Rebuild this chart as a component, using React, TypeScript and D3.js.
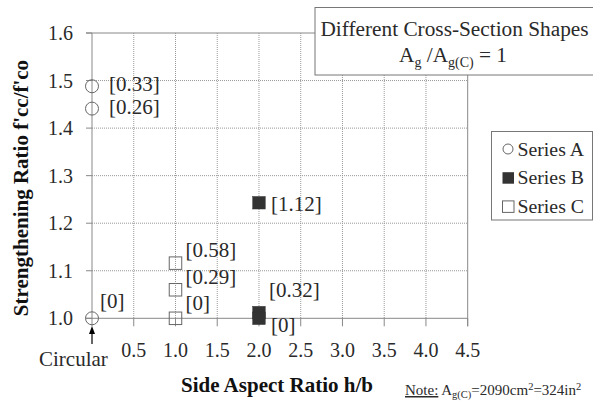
import React from "react";
import * as d3 from "d3";

const xTicks = [0.5, 1.0, 1.5, 2.0, 2.5, 3.0, 3.5, 4.0, 4.5];
const yTicks = [1.0, 1.1, 1.2, 1.3, 1.4, 1.5, 1.6];

const seriesAx = [0, 0, 0];
const seriesAy = [1.488, 1.441, 1.0];
const seriesAlabels = ["[0.33]", "[0.26]", "[0]"];

const seriesBx = [2, 2, 2];
const seriesBy = [1.243, 1.012, 1.0];
const seriesBlabels = ["[1.12]", "[0.32]", "[0]"];

const seriesCx = [1, 1, 1];
const seriesCy = [1.116, 1.06, 1.0];
const seriesClabels = ["[0.58]", "[0.29]", "[0]"];

const legendNames = ["Series A", "Series B", "Series C"];

const FONT = "'Liberation Serif', 'Times New Roman', serif";

export default function App() {
  const W = 593, H = 411;
  const x = d3.scaleLinear().domain([0, 4.5]).range([92, 467.7]);
  const y = d3.scaleLinear().domain([1.0, 1.6]).range([318.3, 33]);
  const gridX = d3.range(0, 4.51, 0.5);
  const gridY = d3.range(1.0, 1.61, 0.1);
  const textCol = "#2a2a2a";
  const markerStroke = "#666";
  const fillB = "#333";

  // label offsets per series/point (dx, dy of baseline from point center)
  const offA = [[17, 5], [17, 5], [8, -10]];
  const offB = [[12, 8], [10, -16], [12, 14]];
  const offC = [[10, -6], [10, -6], [10, -8]];

  const ms = 12.5;
  const LF = 21;

  return (
    <svg width={W} height={H} style={{ position: "absolute", left: 0, top: 0, background: "#fff" }}
      fontFamily={FONT}>
      <rect x={0} y={0} width={W} height={H} fill="#fff" />
      {/* grid */}
      {gridX.map((v, i) => (
        i > 0 && i < gridX.length - 1 ? (
          <line key={"gx" + i} x1={x(v)} x2={x(v)} y1={y(1.6)} y2={y(1.0)} stroke="#999" strokeWidth={1} strokeDasharray="1,1" />
        ) : null
      ))}
      {gridY.map((v, i) => (
        i > 0 && i < gridY.length - 1 ? (
          <line key={"gy" + i} x1={x(0)} x2={x(4.5)} y1={y(v)} y2={y(v)} stroke="#999" strokeWidth={1} strokeDasharray="1,1" />
        ) : null
      ))}
      {/* frame */}
      <line x1={x(0) - 6} x2={x(4.5)} y1={y(1.6)} y2={y(1.6)} stroke="#888" />
      <line x1={x(4.5)} x2={x(4.5)} y1={y(1.6)} y2={y(1.0) + 8} stroke="#888" />
      <line x1={x(0)} x2={x(0)} y1={y(1.6)} y2={y(1.0) + 8} stroke="#888" />
      <line x1={x(0) - 6} x2={x(4.5)} y1={y(1.0)} y2={y(1.0)} stroke="#888" />
      {/* ticks */}
      {yTicks.map((v, i) => (
        <g key={"yt" + i}>
          <line x1={x(0) - 6} x2={x(0)} y1={y(v)} y2={y(v)} stroke="#888" />
          <text x={73} y={y(v) + 7} textAnchor="end" fontSize={20} fill={textCol}>{v.toFixed(1)}</text>
        </g>
      ))}
      {xTicks.map((v, i) => (
        <g key={"xt" + i}>
          <line x1={x(v)} x2={x(v)} y1={y(1.0)} y2={y(1.0) + 8} stroke="#888" />
          <text x={x(v)} y={357} textAnchor="middle" fontSize={20} fill={textCol}>{v.toFixed(1)}</text>
        </g>
      ))}
      {/* axis titles */}
      <text x={277} y={392} textAnchor="middle" fontSize={21} fontWeight="bold" fill="#111">Side Aspect Ratio h/b</text>
      <text transform={`translate(28,188) rotate(-90)`} textAnchor="middle" fontSize={21} fontWeight="bold" fill="#111">Strengthening Ratio f'cc/f'co</text>

      {/* Series C open squares */}
      {seriesCx.map((v, i) => (
        <g key={"c" + i}>
          <rect x={x(v) - ms / 2} y={y(seriesCy[i]) - ms / 2} width={ms} height={ms} fill="none" stroke={markerStroke} strokeWidth={1} />
          <text x={x(v) + offC[i][0]} y={y(seriesCy[i]) + offC[i][1]} fontSize={LF} fill={textCol}>{seriesClabels[i]}</text>
        </g>
      ))}
      {/* Series B filled squares */}
      {seriesBx.map((v, i) => (
        <g key={"b" + i}>
          <rect x={x(v) - ms / 2} y={y(seriesBy[i]) - ms / 2} width={ms} height={ms} fill={fillB} stroke={fillB} strokeWidth={0.5} />
          <text x={x(v) + offB[i][0]} y={y(seriesBy[i]) + offB[i][1]} fontSize={LF} fill={textCol}>{seriesBlabels[i]}</text>
        </g>
      ))}
      {/* Series A open circles */}
      {seriesAx.map((v, i) => (
        <g key={"a" + i}>
          <circle cx={x(v)} cy={y(seriesAy[i])} r={6.5} fill="none" stroke={markerStroke} strokeWidth={1} />
          <text x={x(v) + offA[i][0]} y={y(seriesAy[i]) + offA[i][1]} fontSize={LF} fill={textCol}>{seriesAlabels[i]}</text>
        </g>
      ))}

      {/* Circular arrow */}
      <line x1={x(0)} x2={x(0)} y1={344} y2={332} stroke="#000" strokeWidth={1.2} />
      <path d={`M${x(0)},326 L${x(0) - 3},334 L${x(0) + 3},334 Z`} fill="#000" />
      <text x={39} y={366} fontSize={21} fill={textCol}>Circular</text>

      {/* Title box */}
      <rect x={315} y={7.5} width={280} height={67.5} fill="#fff" stroke="#777" strokeWidth={1} />
      <text x={454.5} y={36} textAnchor="middle" fontSize={21.3} fill={textCol}>Different Cross-Section Shapes</text>
      <text x={453} y={62} textAnchor="middle" fontSize={21.3} fill={textCol}>
        A<tspan fontSize={14} dy={5}>g</tspan><tspan dy={-5}> /A</tspan><tspan fontSize={14} dy={5}>g(C)</tspan><tspan dy={-5}> = 1</tspan>
      </text>

      {/* Legend */}
      <rect x={491.5} y={131.5} width={101} height={88.5} fill="#fff" stroke="#777" strokeWidth={1} />
      {legendNames.map((n, i) => {
        const cy = 149 + i * 28.7;
        return (
          <g key={"l" + i}>
            {i === 0 && <circle cx={508} cy={cy} r={5} fill="none" stroke={markerStroke} />}
            {i === 1 && <rect x={502.5} y={cy - 5.5} width={11.5} height={11.5} fill={fillB} />}
            {i === 2 && <rect x={502.5} y={cy - 5.5} width={11.5} height={11.5} fill="none" stroke={markerStroke} />}
            <text x={517.5} y={cy + 6.5} fontSize={19.8} fill={textCol}>{n}</text>
          </g>
        );
      })}

      {/* Note */}
      <text x={405} y={395} fontSize={15} fill={textCol}>
        <tspan textDecoration="underline">Note:</tspan>
        <tspan> A</tspan><tspan fontSize={10.5} dy={3}>g(C)</tspan><tspan dy={-3}>=2090cm</tspan><tspan fontSize={10.5} dy={-5}>2</tspan><tspan dy={5}>=324in</tspan><tspan fontSize={10.5} dy={-5}>2</tspan>
      </text>
    </svg>
  );
}
